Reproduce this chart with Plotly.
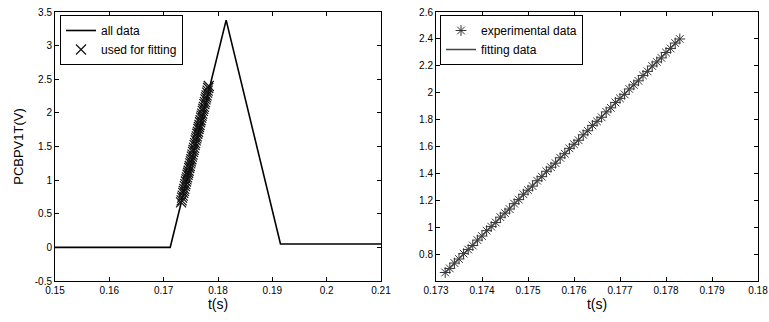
import plotly.graph_objects as go
from plotly.subplots import make_subplots

# Left panel: full trace
t_all = [0.15, 0.1712, 0.1815, 0.1915, 0.21]
v_all = [0.0, 0.0, 3.38, 0.05, 0.05]

# Points used for fitting (experimental data)
t_fit = [0.1732, 0.1733, 0.1734, 0.1735, 0.1736, 0.1737, 0.1738, 0.1739, 0.1740, 0.1741,
         0.1742, 0.1743, 0.1744, 0.1745, 0.1746, 0.1747, 0.1748, 0.1749, 0.1750, 0.1751,
         0.1752, 0.1753, 0.1754, 0.1755, 0.1756, 0.1757, 0.1758, 0.1759, 0.1760, 0.1761,
         0.1762, 0.1763, 0.1764, 0.1765, 0.1766, 0.1767, 0.1768, 0.1769, 0.1770, 0.1771,
         0.1772, 0.1773, 0.1774, 0.1775, 0.1776, 0.1777, 0.1778, 0.1779, 0.1780, 0.1781,
         0.1782, 0.1783]
v_fit = [0.67, 0.70, 0.74, 0.77, 0.81, 0.84, 0.87, 0.91, 0.94, 0.98,
         1.01, 1.04, 1.08, 1.11, 1.14, 1.18, 1.21, 1.25, 1.28, 1.31,
         1.35, 1.38, 1.42, 1.45, 1.48, 1.52, 1.55, 1.59, 1.62, 1.65,
         1.69, 1.72, 1.76, 1.79, 1.82, 1.86, 1.89, 1.93, 1.96, 1.99,
         2.03, 2.06, 2.09, 2.13, 2.16, 2.20, 2.23, 2.26, 2.30, 2.33,
         2.37, 2.40]

# Fitted line endpoints
t_line = [0.1732, 0.1783]
v_line = [0.67, 2.40]

# Tick labels
left_xticks = [0.15, 0.16, 0.17, 0.18, 0.19, 0.2, 0.21]
left_xlabels = ["0.15", "0.16", "0.17", "0.18", "0.19", "0.2", "0.21"]
left_yticks = [-0.5, 0, 0.5, 1, 1.5, 2, 2.5, 3, 3.5]
left_ylabels = ["-0.5", "0", "0.5", "1", "1.5", "2", "2.5", "3", "3.5"]
right_xticks = [0.173, 0.174, 0.175, 0.176, 0.177, 0.178, 0.179, 0.18]
right_xlabels = ["0.173", "0.174", "0.175", "0.176", "0.177", "0.178", "0.179", "0.18"]
right_yticks = [0.8, 1.0, 1.2, 1.4, 1.6, 1.8, 2.0, 2.2, 2.4, 2.6]
right_ylabels = ["0.8", "1", "1.2", "1.4", "1.6", "1.8", "2", "2.2", "2.4", "2.6"]

W, H = 769, 322
FONT = "Liberation Sans, Arial, sans-serif"

fig = make_subplots(rows=1, cols=2)

fig.add_trace(go.Scatter(x=t_all, y=v_all, mode="lines", name="all data",
                         line=dict(color="black", width=1.6), legend="legend"), row=1, col=1)
fig.add_trace(go.Scatter(x=t_fit, y=v_fit, mode="markers", name="used for fitting",
                         marker=dict(symbol="x-thin-open", size=10, color="#111",
                                     line=dict(width=1.2, color="#111")),
                         legend="legend"), row=1, col=1)

fig.add_trace(go.Scatter(x=t_fit, y=v_fit, mode="markers", name="experimental data",
                         marker=dict(symbol="asterisk-open", size=9, color="#333",
                                     line=dict(width=1, color="#333")),
                         legend="legend2"), row=1, col=2)
fig.add_trace(go.Scatter(x=t_line, y=v_line, mode="lines", name="fitting data",
                         line=dict(color="#444", width=1.5), legend="legend2"), row=1, col=2)

y0, y1 = 1 - 281 / H, 1 - 12 / H

axis_common = dict(showgrid=False, zeroline=False, showline=True, linecolor="black",
                   linewidth=1, mirror="ticks", ticks="inside", ticklen=4,
                   tickcolor="black", automargin=False,
                   tickfont=dict(size=10, family=FONT, color="black"))

title_font_x = dict(size=14, family=FONT, color="black")
title_font_y = dict(size=13, family=FONT, color="black")

fig.update_xaxes(domain=[55 / W, 381 / W], range=[0.15, 0.21], tickvals=left_xticks,
                 ticktext=left_xlabels, title=dict(text="t(s)", font=title_font_x, standoff=2),
                 **axis_common, row=1, col=1)
fig.update_yaxes(domain=[y0, y1], range=[-0.5, 3.5], tickvals=left_yticks,
                 ticktext=left_ylabels, title=dict(text="PCBPV1T(V)", font=title_font_y, standoff=8),
                 **axis_common, row=1, col=1)
fig.update_xaxes(domain=[436 / W, 758 / W], range=[0.173, 0.18], tickvals=right_xticks,
                 ticktext=right_xlabels, title=dict(text="t(s)", font=title_font_x, standoff=2),
                 **axis_common, row=1, col=2)
fig.update_yaxes(domain=[y0, y1], range=[0.607, 2.6], tickvals=right_yticks,
                 ticktext=right_ylabels, **axis_common, row=1, col=2)

legend_common = dict(bgcolor="white", bordercolor="black", borderwidth=1,
                     font=dict(size=12, family=FONT, color="black"),
                     xanchor="left", yanchor="top", tracegroupgap=0, itemwidth=30)

fig.update_layout(
    width=W, height=H,
    margin=dict(l=0, r=0, t=0, b=0),
    paper_bgcolor="white", plot_bgcolor="white",
    showlegend=True,
    legend=dict(x=60 / W, y=1 - 15 / H, **legend_common),
    legend2=dict(x=440 / W, y=1 - 15 / H, **legend_common),
)

fig.write_html("out.html", config={"displayModeBar": False},
               post_script="document.body.style.margin='0';document.body.style.overflow='hidden';")
